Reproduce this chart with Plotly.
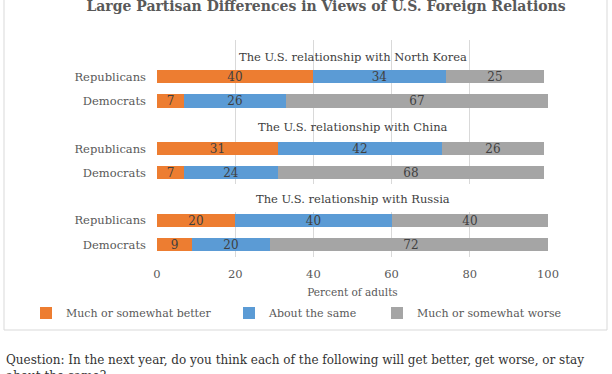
import plotly.graph_objects as go

# ---------------- data ----------------
title_text = "Large Partisan Differences in Views of U.S. Foreign Relations"
group_titles = [
    "The U.S. relationship with North Korea",
    "The U.S. relationship with China",
    "The U.S. relationship with Russia",
]
parties = ["Republicans", "Democrats"]
series_names = ["Much or somewhat better", "About the same", "Much or somewhat worse"]
# values per group: [Republicans, Democrats]
better = [[40, 7], [31, 7], [20, 9]]
same = [[34, 26], [42, 24], [40, 20]]
worse = [[25, 67], [26, 68], [40, 72]]
x_ticks = [0, 20, 40, 60, 80, 100]
x_title = "Percent of adults"
question = ("Question: In the next year, do you think each of the following will get better, "
            "get worse, or stay<br>about the same?")

# ---------------- style ----------------
W, H = 612, 374
FONT = "DejaVu Serif, Liberation Serif, serif"
colors = ["#ED7D31", "#5B9BD5", "#A5A5A5"]
TXT = "#595959"
GRID = "#D9D9D9"

PL, PR = 157, 548          # plot left / right in px
PT, PB = 40, 257           # plot top / bottom in px
ph = PB - PT

def py(y):                 # pixel y -> paper y
    return (PB - y) / ph

def cy(y):                 # pixel y -> container y
    return 1 - y / H

def cx(x):
    return x / W

# subplot domains (pixel top, bottom) and y ranges
domains = [(40, 113), (113, 184), (212, 257)]
yranges = [[1.494, -1.51], [1.483, -1.5], [1.498, -0.339]]
title_y = [56.7, 126.7, 199]

series_vals = [better, same, worse]
legend_ids = ["legend", "legend2", "legend3"]

fig = go.Figure()
for g in range(3):
    sfx = "" if g == 0 else str(g + 1)
    for s in range(3):
        vals = series_vals[s][g]
        fig.add_trace(go.Bar(
            x=vals, y=parties, orientation="h",
            xaxis="x" + sfx, yaxis="y" + sfx,
            name=series_names[s], legendgroup=series_names[s],
            legend=legend_ids[s],
            showlegend=(g == 0),
            marker=dict(color=colors[s], line=dict(width=0)),
            width=0.54,
            text=[str(v) for v in vals],
            textposition="inside", insidetextanchor="middle", textangle=0,
            textfont=dict(size=12, color="#404040", family=FONT),
            hoverinfo="skip",
        ))

layout = dict(
    width=W, height=H,
    margin=dict(l=PL, r=W - PR, t=PT, b=H - PB, autoexpand=False),
    paper_bgcolor="white", plot_bgcolor="white",
    barmode="stack",
    bargap=0,
    font=dict(family=FONT, color=TXT, size=11.5),
    uniformtext=dict(minsize=12, mode="show"),
    title=dict(text="<b>" + title_text + "</b>", x=cx(326), xref="container", xanchor="center",
               y=cy(6), yref="container", yanchor="middle",
               font=dict(size=14, color=TXT, family=FONT)),
)

for g in range(3):
    sfx = "" if g == 0 else str(g + 1)
    top, bot = domains[g]
    layout["yaxis" + sfx] = dict(
        domain=[py(bot), py(top)], range=yranges[g], type="category",
        anchor="x" + sfx, showgrid=False, zeroline=False, showline=False,
        ticks="", ticklabelstandoff=10,
        tickfont=dict(size=11.5, color=TXT, family=FONT), fixedrange=True,
    )
    xa = dict(
        domain=[0, 1], range=[0, 100], anchor="y" + sfx,
        tickmode="array", tickvals=x_ticks,
        showgrid=True, gridcolor=GRID, gridwidth=1, zeroline=False, showline=False,
        ticks="", fixedrange=True,
    )
    if g > 0:
        xa["matches"] = "x"
    if g == 2:
        xa.update(showticklabels=True, ticklabelstandoff=8,
                  tickfont=dict(size=11.5, color=TXT, family=FONT),
                  title=dict(text=x_title, standoff=9, font=dict(size=10.5, color=TXT, family=FONT)))
    else:
        xa["showticklabels"] = False
    layout["xaxis" + sfx] = xa

legend_x = [66, 269, 417]
for s in range(3):
    layout[legend_ids[s]] = dict(
        orientation="h", xref="container", yref="container",
        x=cx(legend_x[s] - 40), xanchor="left", y=cy(313), yanchor="middle",
        font=dict(size=11, color=TXT, family=FONT), bgcolor="rgba(0,0,0,0)",
        borderwidth=0, itemclick=False, itemdoubleclick=False,
    )

annotations = []
for g in range(3):
    annotations.append(dict(
        text=group_titles[g], xref="paper", yref="paper",
        x=0.5, y=py(title_y[g]), xanchor="center", yanchor="middle",
        showarrow=False, font=dict(size=11.5, color="#404040", family=FONT),
    ))
annotations.append(dict(
    text=question, xref="paper", yref="paper",
    x=(4 - PL) / (PR - PL), y=py(360), xanchor="left", yanchor="top",
    yshift=9, showarrow=False, align="left",
    font=dict(size=12, color="#333333", family=FONT),
))
layout["annotations"] = annotations

layout["shapes"] = [dict(
    type="rect", xref="paper", yref="paper",
    x0=(4 - PL) / (PR - PL), x1=(607 - PL) / (PR - PL),
    y0=py(330), y1=py(-5),
    line=dict(color="#D9D9D9", width=1), fillcolor="rgba(0,0,0,0)", layer="below",
)]

fig.update_layout(**layout)
fig.write_html("out.html", config={"displayModeBar": False},
               post_script="document.body.style.margin='0px';document.body.style.overflow='hidden';")
